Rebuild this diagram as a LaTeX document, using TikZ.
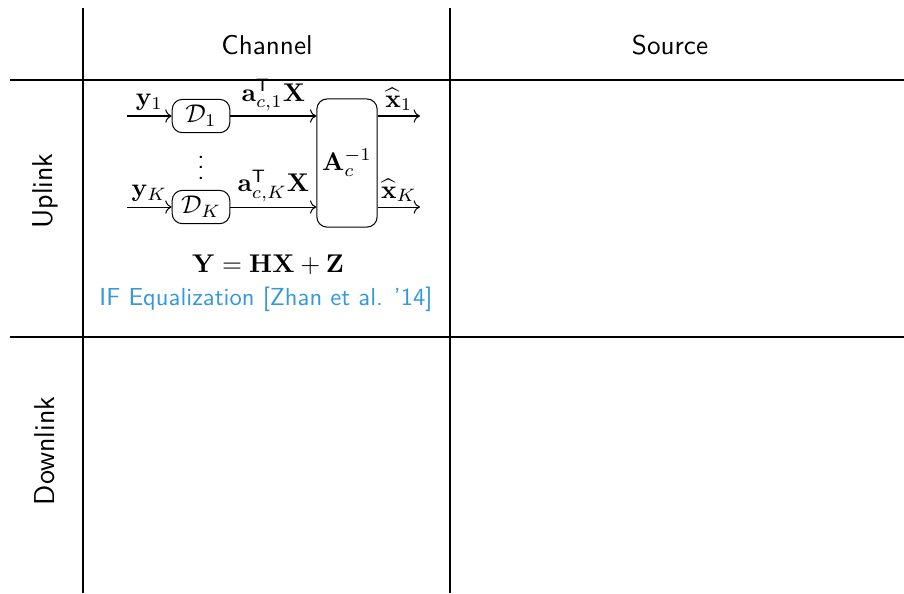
\documentclass[tikz,border=0pt]{standalone}
\usepackage{amsmath}
\usetikzlibrary{arrows.meta,positioning,calc}
\definecolor{citeblue}{RGB}{52,152,219}
\begin{document}
\begin{tikzpicture}[x=0.39pt,y=-0.39pt,font=\sffamily,grid/.style={line width=0.8pt},blk/.style={draw,rounded corners=4pt,minimum width=22.5pt,minimum height=13pt,inner sep=1pt},lbl/.style={midway,above,inner sep=1.8pt},head/.style={font=\sffamily\fontsize{10.6}{12}\selectfont},rowlab/.style={rotate=90,font=\sffamily\fontsize{11.2}{14}\selectfont},->]
\useasboundingbox (0,0) rectangle (904,593);
\draw[grid,-](83,8)--(83,593);\draw[grid,-](450,8)--(450,593);
\draw[grid,-](10,80)--(904,80);\draw[grid,-](10,337)--(904,337);
\node[head](chan) at (267,45){Channel};\node[head](src) at (670,45){Source};
\node[rowlab](up) at (45,191){Uplink};\node[rowlab](down) at (45,451){Downlink};
\node[blk](d1) at (201,116){$\mathcal{D}_1$};
\node[blk](dk) at (201,207){$\mathcal{D}_K$};
\node[inner sep=0pt](dots) at (201,160){$\vdots$};
\node[blk,minimum width=23.5pt,minimum height=50pt](inv) at (347,163){$\mathbf{A}_c^{-1}$};
\coordinate(in1) at (127,116);\coordinate(ink) at (127,207);
\coordinate(out1) at (420,116);\coordinate(outk) at (420,207);
\draw(in1)--(d1) node[lbl]{$\mathbf{y}_1$};
\draw(ink)--(dk) node[lbl]{$\mathbf{y}_K$};
\draw(d1)--(inv.west |- d1) node[lbl]{$\mathbf{a}_{c,1}^{\mathsf{T}}\mathbf{X}$};
\draw(dk)--(inv.west |- dk) node[lbl]{$\mathbf{a}_{c,K}^{\mathsf{T}}\mathbf{X}$};
\draw(inv.east |- d1)--(out1) node[lbl]{$\widehat{\mathbf{x}}_1$};
\draw(inv.east |- dk)--(outk) node[lbl]{$\widehat{\mathbf{x}}_K$};
\node(eq) at (268,265){$\mathbf{Y}=\mathbf{H}\mathbf{X}+\mathbf{Z}$};
\node[citeblue,font=\sffamily\fontsize{9.6}{11}\selectfont](cite) at (266,299){IF Equalization [Zhan et al. '14]};
\end{tikzpicture}
\end{document}
